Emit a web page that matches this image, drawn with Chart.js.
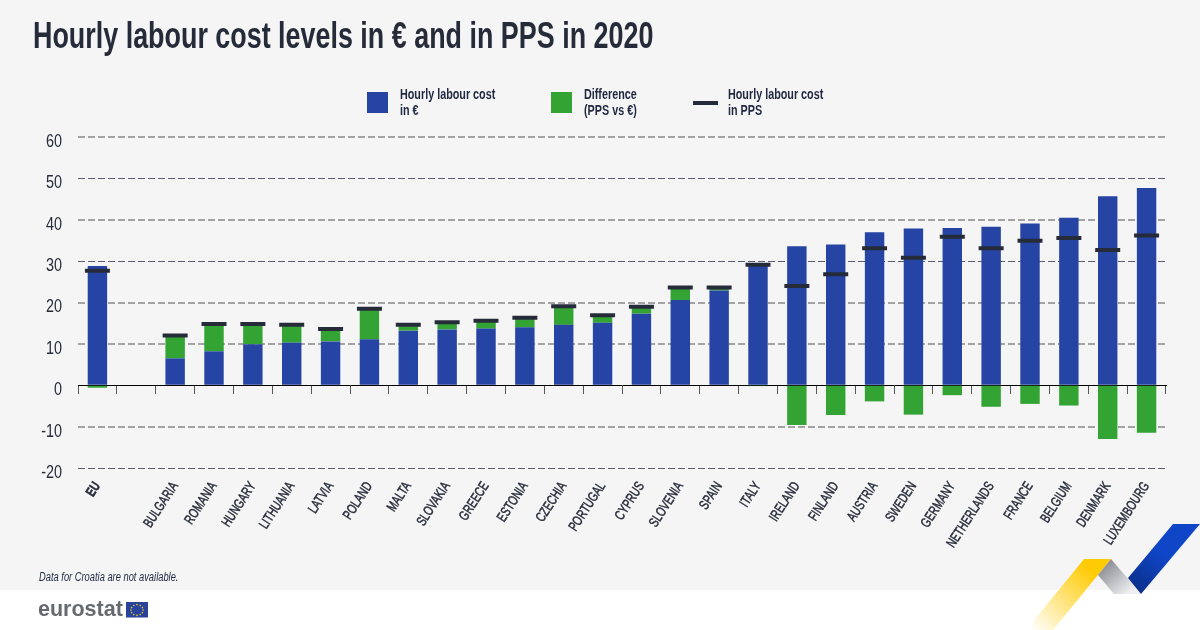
<!DOCTYPE html>
<html><head><meta charset="utf-8">
<script src="https://cdn.jsdelivr.net/npm/chart.js@4/dist/chart.umd.min.js"></script>
<style>
html,body{margin:0;padding:0;background:#fff;}
#stage{position:relative;width:1200px;height:630px;overflow:hidden;background:#fff;font-family:"Liberation Sans",sans-serif;color:#1f2740;}
#bg{position:absolute;left:0;top:0;width:1200px;height:590px;background:#f5f5f5;}
canvas{position:absolute;left:0;top:0;}
.t{position:absolute;white-space:nowrap;transform-origin:left top;}
#title{left:33px;top:15px;font-size:37px;font-weight:700;color:#262b3a;transform:scaleX(.727);}
.leg{font-size:14px;font-weight:700;line-height:16px;color:#1f2740;transform:scaleX(.77);}
#note{left:39px;top:570px;font-size:12px;font-style:italic;transform:scaleX(.777);}
#logo{left:38px;top:597px;font-weight:700;font-size:21.5px;color:#666a6f;}
svg{position:absolute;left:0;top:0;}
</style></head><body>
<div id="stage">
<div id="bg"></div>
<svg width="1200" height="630" viewBox="0 0 1200 630">
<defs>
<linearGradient id="gy" x1="1032" y1="630" x2="1090" y2="570" gradientUnits="userSpaceOnUse"><stop offset="0" stop-color="#fff"/><stop offset="1" stop-color="#ffcb05"/></linearGradient>
<linearGradient id="gg" x1="1105" y1="565" x2="1130" y2="592" gradientUnits="userSpaceOnUse"><stop offset="0" stop-color="#8e9096"/><stop offset="1" stop-color="#eef0f2"/></linearGradient>
<linearGradient id="gb" x1="1135" y1="590" x2="1165" y2="555" gradientUnits="userSpaceOnUse"><stop offset="0" stop-color="#0b2f8a"/><stop offset="1" stop-color="#0f46c8"/></linearGradient>
</defs>
<polygon points="1084,559 1111,559 1053,630 1026,630" fill="url(#gy)"/>
<polygon points="1111,559 1141,594 1114,594 1098,575" fill="url(#gg)"/>
<polygon points="1173,524 1200,524 1141,594 1128,578" fill="url(#gb)"/>
<rect x="126" y="602" width="22" height="15.5" fill="#27439c"/>
<g fill="#f2d21a"><circle cx="137" cy="604.6" r=".8"/><circle cx="140.2" cy="605.5" r=".8"/><circle cx="142.4" cy="607.6" r=".8"/><circle cx="143" cy="610" r=".8"/><circle cx="142.4" cy="612.6" r=".8"/><circle cx="140.2" cy="614.6" r=".8"/><circle cx="137" cy="615.4" r=".8"/><circle cx="133.8" cy="614.6" r=".8"/><circle cx="131.6" cy="612.6" r=".8"/><circle cx="131" cy="610" r=".8"/><circle cx="131.6" cy="607.6" r=".8"/><circle cx="133.8" cy="605.5" r=".8"/></g>
<rect x="367" y="92" width="21" height="21" fill="#2644a4"/>
<rect x="551" y="92" width="21" height="21" fill="#33a333"/>
<rect x="693" y="101" width="25" height="4" fill="#262b3a"/>
</svg>
<canvas id="c" width="1200" height="630" style="width:1200px;height:630px"></canvas>
<div class="t" id="title">Hourly labour cost levels in € and in PPS in 2020</div>
<div class="t leg" style="left:400px;top:86px">Hourly labour cost<br>in €</div>
<div class="t leg" style="left:584px;top:86px">Difference<br>(PPS vs €)</div>
<div class="t leg" style="left:728px;top:86px">Hourly labour cost<br>in PPS</div>
<div class="t" id="note">Data for Croatia are not available.</div>
<div class="t" id="logo">eurostat</div>
</div>
<script>
const categories = ["EU","","BULGARIA","ROMANIA","HUNGARY","LITHUANIA","LATVIA","POLAND","MALTA","SLOVAKIA","GREECE","ESTONIA","CZECHIA","PORTUGAL","CYPRUS","SLOVENIA","SPAIN","ITALY","IRELAND","FINLAND","AUSTRIA","SWEDEN","GERMANY","NETHERLANDS","FRANCE","BELGIUM","DENMARK","LUXEMBOURG"];
const costEuro = [28.8,null,6.5,8.2,9.9,10.3,10.6,11.1,13.2,13.5,13.7,14.0,14.6,15.1,17.3,20.6,22.9,29.3,33.6,34.0,37.0,37.9,38.0,38.3,39.1,40.5,45.7,47.7];
const difference = [-0.6,null,5.2,6.3,4.6,4.0,2.7,7.1,1.1,1.4,1.6,2.0,4.2,1.5,1.5,2.7,0.5,-0.2,-9.6,-7.2,-3.9,-7.1,-2.4,-5.2,-4.5,-4.9,-13.0,-11.5];
const costPps = [27.7,null,12.0,14.8,14.8,14.6,13.6,18.5,14.6,15.2,15.6,16.3,19.1,16.9,19.0,23.6,23.6,29.1,24.0,26.8,33.1,30.8,35.9,33.1,34.9,35.6,32.7,36.2];
const yTicks = [-20,-10,0,10,20,30,40,50,60];
const lightGridValues = [-10,10,20,40,60];

const FONT = '"Liberation Sans",sans-serif';
const canvas = document.getElementById('c');
const ctx = canvas.getContext('2d');
// The original face is condensed: draw every axis label narrower around its anchor.
function narrow(name, factor) {
  const orig = ctx[name].bind(ctx);
  ctx[name] = function (text, x, y) {
    const numeric = /^-?\d+$/.test(text);
    ctx.save();
    ctx.translate(x, y + (numeric ? 5 : 0));
    ctx.scale(numeric ? 0.8 : factor, 1);
    orig(text, 0, 0);
    ctx.restore();
  };
}
narrow('fillText', 0.72);
narrow('strokeText', 0.72);

new Chart(ctx, {
  data: { labels: categories, datasets: [
    { type:'bar', label:'Hourly labour cost in €', data:costEuro, backgroundColor:'#2644a4', categoryPercentage:1, barPercentage:0.5, order:2, stack:'a' },
    { type:'bar', label:'Difference (PPS vs €)', data:difference, backgroundColor:'#33a333', categoryPercentage:1, barPercentage:0.5, order:2, stack:'a' },
    { type:'line', label:'Hourly labour cost in PPS', data:costPps, showLine:false, pointStyle:'line', pointRadius:12.5, pointHoverRadius:12.5, borderColor:'#262b3a', pointBorderColor:'#262b3a', pointBorderWidth:4, backgroundColor:'#262b3a', order:1 }
  ]},
  options: {
    responsive:false, animation:false, devicePixelRatio:1,
    layout:{ padding:{ top:137, right:34, left:0, bottom:0 } },
    plugins:{ legend:{display:false}, title:{display:false}, tooltip:{enabled:false} },
    scales:{
      x:{ type:'category', stacked:true, position:'bottom', offset:true,
          grid:{display:false}, border:{display:false},
          afterFit(s){ s.height = 162; },
          ticks:{ autoSkip:false, maxRotation:57, minRotation:57, padding:3, color:'#262b3a',
                  textStrokeColor:'#262b3a', textStrokeWidth:0.5,
                  font:(c)=>({family:FONT,size:14,weight:c.index===0?'bold':'normal'}) } },
      xAxis0:{ type:'category', labels:categories, offset:true, position:{y:0},
          grid:{ display:true, drawOnChartArea:false, drawTicks:true, tickLength:8, tickColor:'#555', tickWidth:1, offset:true },
          border:{ display:true, color:'#000', width:1 },
          ticks:{ display:false } },
      y:{ stacked:true, min:-20, max:60, position:'left',
          afterFit(s){ s.width = 78; },
          afterBuildTicks(s){ s.ticks = yTicks.map(v=>({value:v})); },
          grid:{ color:(c)=> c.tick.value===0 ? 'rgba(0,0,0,0)' : (lightGridValues.includes(c.tick.value) ? '#a3a3a5' : '#5c5e70'),
                 lineWidth:(c)=> lightGridValues.includes(c.tick.value) ? 2 : 1, drawTicks:false },
          border:{ display:false, dash:[7,3] },
          ticks:{ padding:16, color:'#262b3a', font:{family:FONT,size:18} } }
    }
  }
});
</script>
</body></html>
